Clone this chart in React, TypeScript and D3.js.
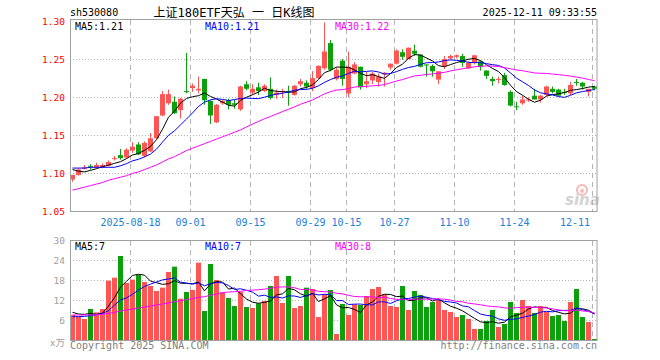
import React from 'react';
import * as d3 from 'd3';

// ---- categories: trading days ----
const augDays = [4, 5, 6, 7, 8, 11, 12, 13, 14, 15, 18, 19, 20, 21, 22, 25, 26, 27, 28, 29];
const sepDays = [1, 2, 3, 4, 5, 8, 9, 10, 11, 12, 15, 16, 17, 18, 19, 22, 23, 24, 25, 26, 29, 30];
const octDays = [9, 10, 13, 14, 15, 16, 17, 20, 21, 22, 23, 24, 27, 28, 29, 30, 31];
const novDays = [3, 4, 5, 6, 7, 10, 11, 12, 13, 14, 17, 18, 19, 20, 21, 24, 25, 26, 27, 28];
const decDays = [1, 2, 3, 4, 5, 8, 9, 10, 11];

const pad = (v: number) => (v < 10 ? '0' + v : '' + v);
const dates: string[] = [
  ...augDays.map((d) => `2025-08-${pad(d)}`),
  ...sepDays.map((d) => `2025-09-${pad(d)}`),
  ...octDays.map((d) => `2025-10-${pad(d)}`),
  ...novDays.map((d) => `2025-11-${pad(d)}`),
  ...decDays.map((d) => `2025-12-${pad(d)}`),
];

// ---- OHLC ----
const opens = [
  1.092, 1.098, 1.106, 1.110, 1.108, 1.108, 1.110, 1.119, 1.124, 1.121,
  1.130, 1.138, 1.123, 1.129, 1.146, 1.176, 1.192, 1.194, 1.183, 1.208,
  1.212, 1.209, 1.224, 1.195, 1.167, 1.192, 1.196, 1.192, 1.184, 1.217,
  1.206, 1.213, 1.208, 1.211, 1.203, 1.207, 1.208, 1.203, 1.217, 1.219,
  1.212, 1.225, 1.238, 1.271, 1.224, 1.248, 1.205, 1.231, 1.240, 1.217,
  1.222, 1.220, 1.230, 1.239, 1.244, 1.259, 1.250, 1.261, 1.256, 1.243,
  1.241, 1.223, 1.241, 1.251, 1.253, 1.254, 1.238, 1.245, 1.247, 1.235,
  1.224, 1.223, 1.229, 1.207, 1.188, 1.192, 1.196, 1.202, 1.197, 1.203,
  1.211, 1.210, 1.207, 1.205, 1.220, 1.219, 1.207, 1.214,
];
const highs = [
  1.098, 1.107, 1.111, 1.112, 1.114, 1.113, 1.117, 1.123, 1.132, 1.133,
  1.141, 1.141, 1.142, 1.153, 1.175, 1.208, 1.210, 1.201, 1.199, 1.258,
  1.218, 1.227, 1.224, 1.196, 1.191, 1.197, 1.198, 1.197, 1.215, 1.221,
  1.217, 1.219, 1.217, 1.226, 1.210, 1.211, 1.215, 1.216, 1.224, 1.222,
  1.234, 1.242, 1.298, 1.275, 1.239, 1.250, 1.260, 1.246, 1.240, 1.233,
  1.233, 1.231, 1.233, 1.244, 1.263, 1.263, 1.265, 1.269, 1.256, 1.243,
  1.243, 1.234, 1.254, 1.256, 1.256, 1.257, 1.247, 1.255, 1.248, 1.235,
  1.227, 1.227, 1.232, 1.209, 1.194, 1.202, 1.200, 1.211, 1.203, 1.215,
  1.214, 1.211, 1.211, 1.220, 1.224, 1.220, 1.210, 1.215,
];
const lows = [
  1.089, 1.097, 1.105, 1.105, 1.107, 1.107, 1.109, 1.117, 1.118, 1.119,
  1.127, 1.124, 1.121, 1.128, 1.146, 1.175, 1.190, 1.178, 1.172, 1.205,
  1.207, 1.205, 1.190, 1.165, 1.166, 1.190, 1.184, 1.185, 1.182, 1.209,
  1.203, 1.203, 1.207, 1.197, 1.198, 1.199, 1.189, 1.202, 1.214, 1.211,
  1.208, 1.224, 1.236, 1.234, 1.222, 1.215, 1.200, 1.230, 1.210, 1.212,
  1.217, 1.214, 1.214, 1.236, 1.243, 1.249, 1.250, 1.254, 1.239, 1.227,
  1.227, 1.217, 1.237, 1.249, 1.251, 1.240, 1.237, 1.243, 1.235, 1.224,
  1.215, 1.218, 1.215, 1.188, 1.183, 1.190, 1.194, 1.197, 1.193, 1.201,
  1.205, 1.201, 1.203, 1.203, 1.215, 1.210, 1.201, 1.209,
];
const closes = [
  1.098, 1.105, 1.108, 1.109, 1.111, 1.111, 1.115, 1.120, 1.120, 1.131,
  1.135, 1.125, 1.140, 1.146, 1.175, 1.204, 1.204, 1.179, 1.198, 1.207,
  1.215, 1.211, 1.196, 1.176, 1.190, 1.195, 1.190, 1.190, 1.214, 1.211,
  1.211, 1.208, 1.215, 1.199, 1.206, 1.208, 1.206, 1.215, 1.221, 1.214,
  1.225, 1.241, 1.260, 1.236, 1.236, 1.224, 1.240, 1.243, 1.213, 1.221,
  1.231, 1.227, 1.232, 1.244, 1.261, 1.253, 1.265, 1.257, 1.240, 1.242,
  1.234, 1.234, 1.250, 1.254, 1.255, 1.245, 1.245, 1.255, 1.240, 1.228,
  1.221, 1.224, 1.216, 1.189, 1.187, 1.197, 1.197, 1.197, 1.202, 1.214,
  1.207, 1.202, 1.206, 1.216, 1.219, 1.214, 1.211, 1.211,
];
// ---- volume (x万) ----
const volumes = [
  7.5, 7.0, 6.3, 9.3, 8.3, 9.3, 17.8, 18.7, 25.2, 17.1,
  18.1, 19.5, 17.4, 16.2, 14.7, 15.7, 20.4, 22.0, 12.4, 14.4,
  15.0, 23.2, 8.7, 22.8, 18.0, 14.3, 12.6, 10.2, 14.4, 9.9,
  9.6, 11.0, 11.7, 16.2, 19.2, 11.1, 19.2, 9.6, 10.2, 15.7,
  15.3, 6.9, 13.7, 15.0, 1.8, 10.8, 7.5, 10.7, 10.5, 13.2,
  15.3, 15.9, 13.7, 10.2, 9.9, 16.2, 9.0, 14.7, 13.5, 9.9,
  11.4, 12.0, 9.0, 8.4, 6.9, 7.5, 6.3, 3.3, 3.3, 5.7,
  9.0, 3.9, 4.8, 11.4, 8.1, 12.0, 10.2, 8.1, 10.2, 8.5,
  7.2, 7.5, 5.7, 11.4, 15.3, 6.9, 5.4, 0.3,
];

// moving-average values before the window is full
const priceMa5Head = [1.105, 1.103, 1.102, 1.104];
const priceMa10Head = [1.107, 1.107, 1.107, 1.108, 1.108, 1.108, 1.108, 1.108, 1.110];
const priceMa30Head = [
  1.078, 1.080, 1.082, 1.084, 1.086, 1.088, 1.091, 1.093, 1.095, 1.097,
  1.100, 1.102, 1.105, 1.108, 1.111, 1.115, 1.119, 1.122, 1.126, 1.130,
  1.133, 1.136, 1.139, 1.142, 1.145, 1.148, 1.151, 1.154, 1.157,
];
const volMa5Head = [8.3, 7.8, 7.7, 8.0];
const volMa10Head = [7.0, 7.0, 7.1, 7.3, 7.6, 8.0, 8.8, 10.5, 12.0];
const volMa30Head = [
  7.5, 7.5, 7.5, 7.5, 7.6, 7.7, 8.0, 8.3, 8.7, 9.0,
  9.3, 9.6, 9.9, 10.2, 10.5, 10.8, 11.1, 11.5, 11.8, 12.1,
  12.4, 12.8, 13.0, 13.4, 13.8, 14.2, 14.4, 14.5, 14.6,
];

// ---- ticks / labels ----
const tickDates = ['2025-08-18', '2025-09-01', '2025-09-15', '2025-09-29', '2025-10-15', '2025-10-27', '2025-11-10', '2025-11-24', '2025-12-11'];
const tickLabels = ['2025-08-18', '09-01', '09-15', '09-29', '10-15', '10-27', '11-10', '11-24', '12-11'];
const priceTicks = [1.05, 1.1, 1.15, 1.2, 1.25, 1.3];
const volTicks = [6, 12, 18, 24, 30];
const priceLegend = ['MA5:1.21', 'MA10:1.21', 'MA30:1.22'];
const volLegend = ['MA5:7', 'MA10:7', 'MA30:8'];
const symbol = 'sh530080';
const title = '上证180ETF天弘 一 日K线图';
const stamp = '2025-12-11 09:33:55';

const RED = '#ff5555';
const GREEN = '#0da00d';
const MA_COLORS = ['#000000', '#0000ff', '#ff00ff'];
const GRID = '#b4b4b4';
const FRAME = '#a0a0a0';
const MONO = '"DejaVu Sans Mono", "Liberation Mono", "Noto Sans CJK SC", monospace';

function movingAverage(values: number[], period: number, head: number[]) {
  return values.map((_, i) =>
    i < period - 1 ? head[i] : (d3.mean(values.slice(i - period + 1, i + 1)) as number)
  );
}

export default function App() {
  const n = closes.length;
  const left = 70;
  const right = 597;
  const x = d3.scaleBand<number>().domain(d3.range(n)).range([69, 69 + 6 * n]).padding(0);
  const cx = (i: number) => (x(i) as number) + 3.5;
  const yP = d3.scaleLinear().domain([1.05, 1.3]).range([211.5, 21]);
  const yV = d3.scaleLinear().domain([0, 30]).range([340, 240]);

  const pMa = [
    movingAverage(closes, 5, priceMa5Head),
    movingAverage(closes, 10, priceMa10Head),
    movingAverage(closes, 30, priceMa30Head),
  ];
  const vMa = [
    movingAverage(volumes, 5, volMa5Head),
    movingAverage(volumes, 10, volMa10Head),
    movingAverage(volumes, 30, volMa30Head),
  ];
  const pLine = d3.line<number>().x((_, i) => cx(i)).y((d) => yP(d));
  const vLine = d3.line<number>().x((_, i) => cx(i)).y((d) => yV(d));

  const tickIdx = tickDates.map((d) => dates.indexOf(d));
  const legendX = [75, 205, 335];
  // keep date labels inside the plot on the right
  const labelX = (i: number, label: string) => {
    const gx = (x(i) as number) + 1.5;
    const half = (label.length * 6.02) / 2;
    return Math.min(gx, 590 - half);
  };

  return (
    <svg
      width={660}
      height={360}
      style={{ position: 'absolute', left: 0, top: 0, background: '#fff' }}
      fontFamily={MONO}
    >
      <rect x={0} y={0} width={660} height={360} fill="#fff" />
      {/* header */}
      <text x={70} y={16} fontSize={10} fill="#000">{symbol}</text>
      <text x={234} y={16.5} fontSize={12} fill="#000" textAnchor="middle">{title}</text>
      <text x={597} y={16} fontSize={10} fill="#000" textAnchor="end">{stamp}</text>

      {/* price grid */}
      {priceTicks.slice(1, -1).map((t) => (
        <line key={'pg' + t} x1={left} x2={right} y1={Math.round(yP(t)) + 0.5} y2={Math.round(yP(t)) + 0.5}
          stroke={GRID} strokeDasharray="1 2" />
      ))}
      {/* volume grid */}
      {volTicks.slice(0, -1).map((t) => (
        <line key={'vg' + t} x1={left} x2={right} y1={yV(t) + 0.5} y2={yV(t) + 0.5}
          stroke={GRID} strokeDasharray="1 2" />
      ))}
      {/* vertical dashed grid */}
      {tickIdx.map((i) => (
        <g key={'vx' + i}>
          <line x1={(x(i) as number) + 1.5} x2={(x(i) as number) + 1.5} y1={20} y2={211}
            stroke={GRID} strokeDasharray="5 4" />
          <line x1={(x(i) as number) + 1.5} x2={(x(i) as number) + 1.5} y1={241} y2={340}
            stroke={GRID} strokeDasharray="5 4" />
        </g>
      ))}

      {/* sina watermark */}
      <g opacity={0.55}>
        <circle cx={582} cy={190} r={5} fill="none" stroke="#f08080" strokeWidth={2} />
        <circle cx={582} cy={191} r={2} fill="#f08080" />
        <text x={565} y={205} fontSize={15} fontWeight="bold" fontStyle="italic" fill="#b0b0b0"
          fontFamily='"DejaVu Sans", sans-serif'>sina</text>
      </g>

      {/* candles */}
      {closes.map((c, i) => {
        const o = opens[i];
        const up = c >= o;
        const col = up ? RED : GREEN;
        const top = yP(Math.max(o, c));
        const bot = yP(Math.min(o, c));
        return (
          <g key={'c' + i}>
            <line x1={cx(i)} x2={cx(i)} y1={yP(highs[i])} y2={yP(lows[i])} stroke={col} />
            <rect x={(x(i) as number) + 1} y={top} width={5} height={Math.max(1, bot - top)} fill={col} />
          </g>
        );
      })}
      {/* price MAs */}
      {pMa.map((arr, k) => (
        <path key={'pm' + k} d={pLine(arr) as string} fill="none" stroke={MA_COLORS[k]} strokeWidth={1} />
      ))}

      {/* volume bars */}
      {volumes.map((v, i) => (
        <rect key={'v' + i} x={(x(i) as number) + 1} y={yV(v)} width={5} height={340 - yV(v)}
          fill={closes[i] >= opens[i] ? RED : GREEN} />
      ))}
      {vMa.map((arr, k) => (
        <path key={'vm' + k} d={vLine(arr) as string} fill="none" stroke={MA_COLORS[k]} strokeWidth={1} />
      ))}

      {/* frames */}
      <rect x={70.5} y={19.5} width={526.5} height={192} fill="none" stroke={FRAME} />
      <rect x={70.5} y={240.5} width={526.5} height={100} fill="none" stroke={FRAME} />

      {/* legends */}
      {priceLegend.map((t, k) => (
        <text key={'pl' + k} x={legendX[k]} y={30} fontSize={10} fill={MA_COLORS[k]}>{t}</text>
      ))}
      {volLegend.map((t, k) => (
        <text key={'vl' + k} x={legendX[k]} y={250} fontSize={10} fill={MA_COLORS[k]}>{t}</text>
      ))}

      {/* price axis labels */}
      {priceTicks.map((t) => (
        <text key={'pt' + t} x={65} y={yP(t) + 3.5} fontSize={9.5} fill="#ff0000" textAnchor="end">
          {t.toFixed(2)}
        </text>
      ))}
      {/* volume axis labels */}
      {volTicks.map((t) => (
        <text key={'vt' + t} x={65} y={yV(t) + 3.5} fontSize={9.5} fill="#a0a0a0" textAnchor="end">
          {t}
        </text>
      ))}
      <text x={65} y={346} fontSize={9.5} fill="#a0a0a0" textAnchor="end">x万</text>

      {/* date labels */}
      {tickIdx.map((i, k) => (
        <text key={'dl' + k} x={labelX(i, tickLabels[k])} y={225.5} fontSize={10} fill="#1a82d8" textAnchor="middle">
          {tickLabels[k]}
        </text>
      ))}

      {/* footer */}
      <text x={70} y={349} fontSize={10} fill="#808080">Copyright 2025 SINA.COM</text>
      <text x={597} y={349} fontSize={10} fill="#808080" textAnchor="end">http://finance.sina.com.cn</text>
    </svg>
  );
}
